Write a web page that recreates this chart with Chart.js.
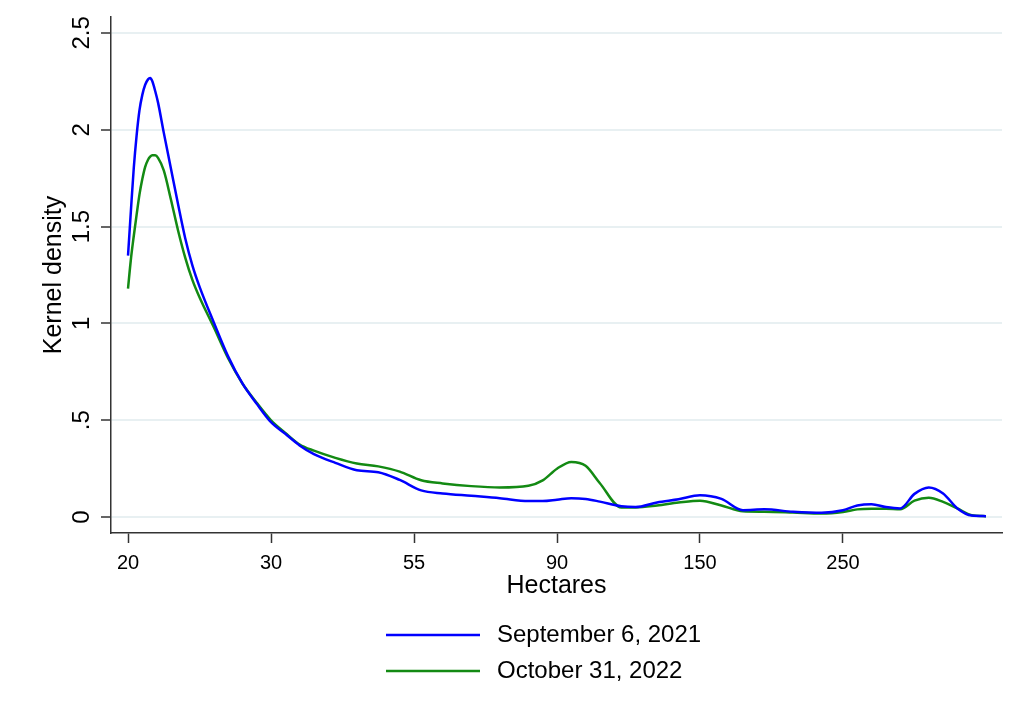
<!DOCTYPE html>
<html>
<head>
<meta charset="utf-8">
<title>Kernel density - Hectares</title>
<script src="https://cdn.jsdelivr.net/npm/chart.js@4.4.0/dist/chart.umd.min.js"></script>
<style>
  html, body { margin: 0; padding: 0; background: #fff; }
  canvas { display: block; }
</style>
</head>
<body>
<canvas id="densityChart" width="1010" height="701"></canvas>
<script>
// position along the Hectares axis, in tick steps (0 = 20 ha, 1 = 30 ha, 2 = 55 ha ...)
const xSteps = [0, 0.02, 0.04, 0.06, 0.08, 0.1, 0.12, 0.14, 0.155, 0.17, 0.19, 0.21, 0.25, 0.3, 0.35, 0.4, 0.45, 0.5,
  0.6, 0.7, 0.8, 0.9, 1.0, 1.1, 1.2, 1.3,
  1.45, 1.6, 1.75, 1.9, 2.05, 2.2, 2.4, 2.6, 2.8, 2.9, 3.0, 3.1, 3.2, 3.3,
  3.45, 3.55, 3.7, 3.85, 4.0, 4.15, 4.3, 4.45, 4.65, 4.85,
  5.0, 5.1, 5.2, 5.3, 5.4, 5.5, 5.6, 5.7, 5.8, 5.9, 6.0];

// kernel density, September 6, 2021
const sept2021 = [1.35, 1.58, 1.8, 1.97, 2.1, 2.18, 2.232, 2.26, 2.267, 2.25, 2.2, 2.14, 1.985, 1.80, 1.615, 1.44, 1.30, 1.19,
  1.005, 0.83, 0.69, 0.585, 0.49, 0.43, 0.37, 0.325,
  0.28, 0.242, 0.232, 0.192, 0.138, 0.122, 0.11, 0.098, 0.083, 0.083, 0.09, 0.098, 0.094, 0.08,
  0.056, 0.052, 0.076, 0.092, 0.113, 0.094, 0.036, 0.04, 0.028, 0.022,
  0.035, 0.06, 0.067, 0.052, 0.045, 0.12, 0.153, 0.122, 0.045, 0.008, 0.005];

// kernel density, October 31, 2022
const oct2022 = [1.18, 1.33, 1.45, 1.56, 1.665, 1.745, 1.808, 1.845, 1.861, 1.868, 1.868, 1.855, 1.79, 1.64, 1.48, 1.34, 1.225, 1.135,
  0.98, 0.82, 0.69, 0.59, 0.5, 0.435, 0.375, 0.343,
  0.306, 0.277, 0.262, 0.235, 0.19, 0.174, 0.16, 0.153, 0.162, 0.19, 0.25, 0.285, 0.265, 0.175,
  0.05, 0.05, 0.06, 0.075, 0.085, 0.06, 0.03, 0.028, 0.024, 0.019,
  0.027, 0.04, 0.043, 0.043, 0.041, 0.085, 0.10, 0.079, 0.045, 0.01, 0.005];

const seriesNames = ['September 6, 2021', 'October 31, 2022'];
const seriesColors = ['#0000ff', '#138a13'];
const xTickLabels = ['20', '30', '55', '90', '150', '250'];
const yTicks = [0, 0.5, 1, 1.5, 2, 2.5];
const yTickLabels = ['0', '.5', '1', '1.5', '2', '2.5'];

const FONT = "'Liberation Sans', Arial, sans-serif";
const AXIS_COLOR = '#333';
const GRID_COLOR = '#e8f0f2';

function toPoints(values) {
  return xSteps.map((x, i) => ({ x: x, y: values[i] }));
}

// stata style legend stacked under the x title
const stackedLegend = {
  id: 'stackedLegend',
  afterDraw(chart) {
    const ctx = chart.ctx;
    ctx.save();
    ctx.font = '24px ' + FONT;
    ctx.textBaseline = 'middle';
    ctx.textAlign = 'left';
    chart.data.datasets.forEach((ds, i) => {
      const y = 635 + i * 36;
      ctx.strokeStyle = ds.borderColor;
      ctx.lineWidth = 2.5;
      ctx.beginPath();
      ctx.moveTo(386, y);
      ctx.lineTo(480, y);
      ctx.stroke();
      ctx.fillStyle = '#000';
      ctx.fillText(ds.label, 497, y);
    });
    ctx.restore();
  }
};

const ctx = document.getElementById('densityChart').getContext('2d');
const densityChart = new Chart(ctx, {
  type: 'line',
  data: {
    datasets: [
      {
        label: seriesNames[0],
        data: toPoints(sept2021),
        borderColor: seriesColors[0],
        borderWidth: 2.5,
        pointRadius: 0,
        cubicInterpolationMode: 'monotone',
        fill: false
      },
      {
        label: seriesNames[1],
        data: toPoints(oct2022),
        borderColor: seriesColors[1],
        borderWidth: 2.5,
        pointRadius: 0,
        cubicInterpolationMode: 'monotone',
        fill: false
      }
    ]
  },
  options: {
    responsive: false,
    animation: false,
    devicePixelRatio: 1,
    layout: { padding: { left: 35, top: 17, right: 8, bottom: 96 } },
    plugins: {
      legend: { display: false },
      tooltip: { enabled: false }
    },
    scales: {
      x: {
        type: 'linear',
        min: -0.119,
        max: 6.112,
        afterBuildTicks: s => { s.ticks = xTickLabels.map((_, i) => ({ value: i })); },
        afterFit: s => { s.height = 72; },
        ticks: {
          color: '#000',
          font: { family: FONT, size: 20 },
          padding: 8,
          maxRotation: 0,
          callback: (v, i) => xTickLabels[i]
        },
        grid: {
          drawOnChartArea: false,
          tickColor: AXIS_COLOR,
          tickLength: 10,
          tickWidth: 1.5
        },
        border: { color: AXIS_COLOR, width: 1.5 },
        title: {
          display: true,
          text: 'Hectares',
          color: '#000',
          font: { family: FONT, size: 25 }
        }
      },
      y: {
        min: -0.082,
        max: 2.582,
        afterBuildTicks: s => { s.ticks = yTicks.map(v => ({ value: v })); },
        afterFit: s => { s.width = 76; },
        ticks: {
          color: '#000',
          font: { family: FONT, size: 24 },
          padding: 2,
          minRotation: 90,
          maxRotation: 90,
          crossAlign: 'center',
          callback: (v, i) => yTickLabels[i]
        },
        grid: {
          color: GRID_COLOR,
          lineWidth: 2,
          tickColor: AXIS_COLOR,
          tickLength: 10,
          tickWidth: 1.5
        },
        border: { color: AXIS_COLOR, width: 1.5 },
        title: {
          display: true,
          text: 'Kernel density',
          color: '#000',
          font: { family: FONT, size: 25 }
        }
      }
    }
  },
  plugins: [stackedLegend]
});
</script>
</body>
</html>
